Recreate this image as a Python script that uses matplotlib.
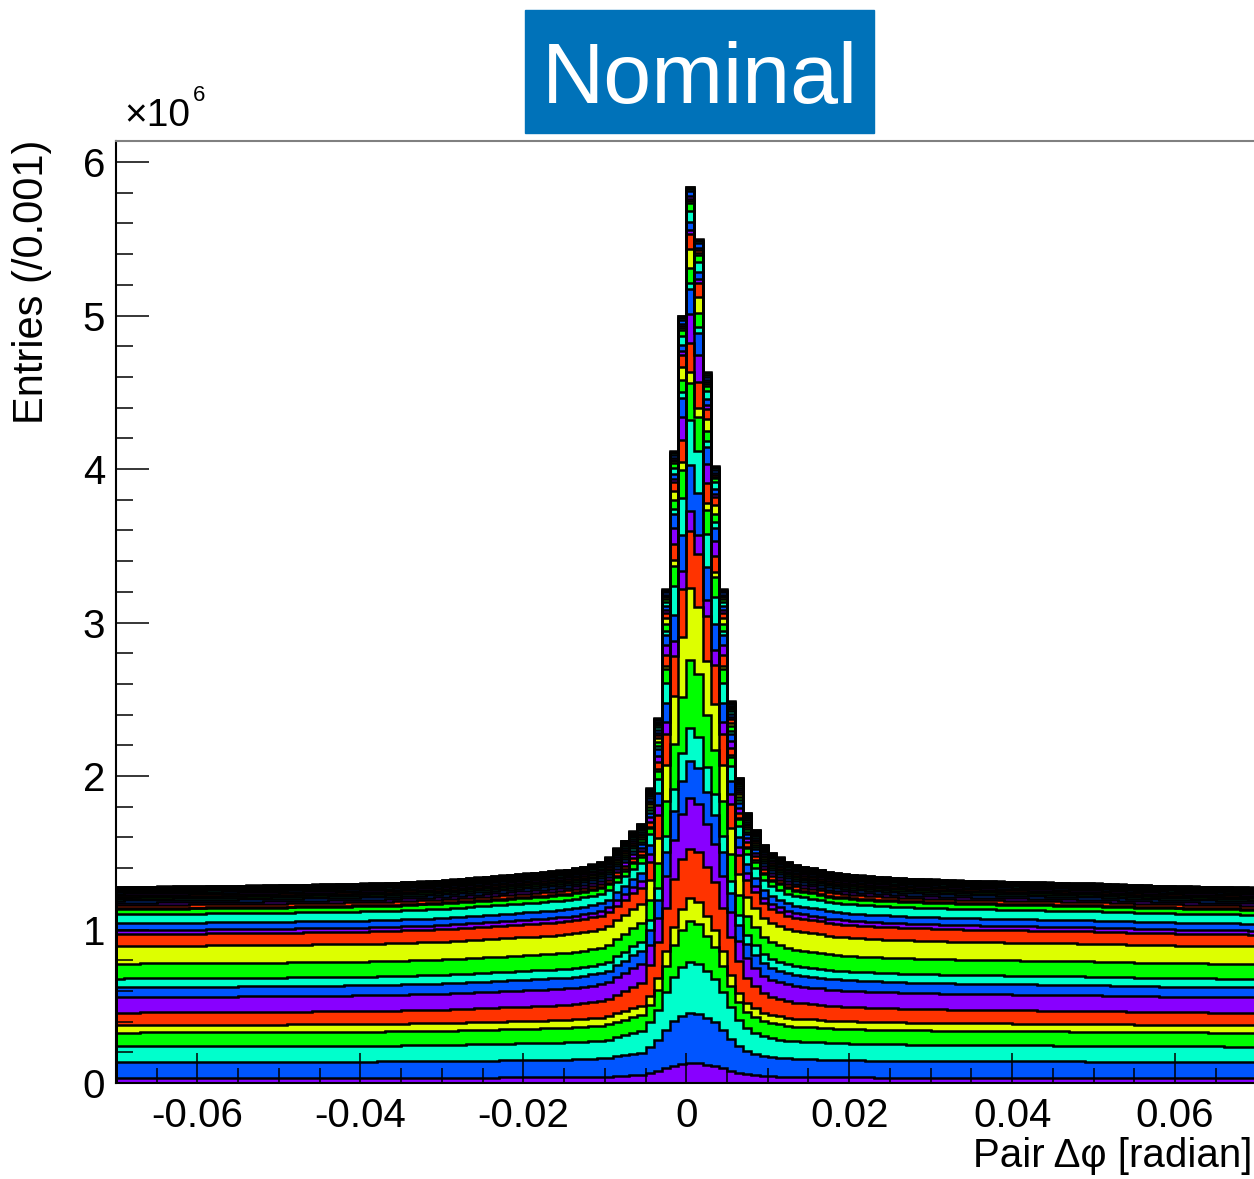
import numpy as np
import matplotlib.pyplot as plt
from matplotlib.patches import Rectangle
from matplotlib.ticker import MultipleLocator

plt.rcParams['font.family'] = ['Liberation Sans', 'DejaVu Sans']

# histogram binning: 0.001 rad bins from -0.07 to 0.07
edges = np.round(np.linspace(-0.070, 0.070, 141), 4)

# top of the stack per bin (x10^6 entries)
total = np.array([
    1.278, 1.279, 1.279, 1.280, 1.280, 1.281, 1.281, 1.282, 1.282, 1.283,
    1.283, 1.284, 1.284, 1.285, 1.285, 1.286, 1.287, 1.287, 1.288, 1.289,
    1.290, 1.291, 1.292, 1.293, 1.294, 1.295, 1.296, 1.297, 1.298, 1.299,
    1.300, 1.301, 1.302, 1.304, 1.306, 1.310, 1.312, 1.314, 1.316, 1.319,
    1.322, 1.326, 1.330, 1.335, 1.339, 1.343, 1.347, 1.352, 1.357, 1.362,
    1.366, 1.370, 1.375, 1.380, 1.385, 1.390, 1.400, 1.410, 1.425, 1.440,
    1.470, 1.530, 1.580, 1.640, 1.690, 1.920, 2.380, 3.220, 4.120, 5.000,
    5.840, 5.500, 4.630, 4.020, 3.220, 2.490, 1.990, 1.760, 1.650, 1.550,
    1.500, 1.470, 1.440, 1.420, 1.410, 1.400, 1.390, 1.375, 1.368, 1.362,
    1.356, 1.352, 1.348, 1.344, 1.341, 1.338, 1.335, 1.332, 1.330, 1.328,
    1.326, 1.324, 1.322, 1.320, 1.318, 1.317, 1.316, 1.315, 1.313, 1.312,
    1.311, 1.310, 1.309, 1.308, 1.307, 1.306, 1.305, 1.303, 1.302, 1.301,
    1.300, 1.298, 1.296, 1.294, 1.292, 1.290, 1.288, 1.286, 1.285, 1.284,
    1.283, 1.282, 1.281, 1.280, 1.279, 1.278, 1.277, 1.276, 1.275, 1.274,
])

# cumulative layer tops: at the left edge, in the shoulder bin (-0.005)
# and in the peak bin (0)
tail_tops = np.array([
    0.033, 0.137, 0.238, 0.329, 0.378, 0.459, 0.560, 0.625, 0.681, 0.778,
    0.893, 0.971, 0.997, 1.042, 1.101, 1.134, 1.140, 1.160, 1.175, 1.190,
    1.200, 1.210, 1.215, 1.225, 1.235, 1.243, 1.250, 1.256, 1.260, 1.265,
    1.270, 1.274, 1.276, 1.278, 1.279,
])
shoulder_tops = np.array([
    0.065, 0.235, 0.400, 0.510, 0.570, 0.770, 0.900, 1.000, 1.060, 1.190,
    1.320, 1.440, 1.490, 1.550, 1.620, 1.660, 1.670, 1.700, 1.730, 1.760,
    1.780, 1.800, 1.815, 1.830, 1.840, 1.855, 1.870, 1.880, 1.885, 1.890,
    1.895, 1.905, 1.910, 1.915, 1.920,
])
peak_tops = np.array([
    0.130, 0.456, 0.790, 1.060, 1.210, 1.530, 1.860, 2.100, 2.320, 2.760,
    3.230, 3.600, 3.730, 4.030, 4.330, 4.570, 4.640, 4.830, 5.020, 5.180,
    5.220, 5.320, 5.440, 5.540, 5.570, 5.620, 5.690, 5.740, 5.755, 5.770,
    5.790, 5.820, 5.835, 5.845, 5.850,
])

colors = ['#8800ff', '#0055ff', '#00ffcc', '#00ff00', '#ddff00', '#ff3300']

# split every bin between the layers, going from the tail mix to the
# shoulder mix and then to the peak mix as the bin content grows
tail_frac = tail_tops[:, None] / tail_tops[-1]
shoulder_frac = shoulder_tops[:, None] / shoulder_tops[-1]
peak_frac = peak_tops[:, None] / peak_tops[-1]
t_lo, t_mid, t_hi = total.min(), shoulder_tops[-1], total.max()
w1 = np.clip((total - t_lo) / (t_mid - t_lo), 0, 1)
w2 = np.clip((total - t_mid) / (t_hi - t_mid), 0, 1)
frac = np.where(total <= t_mid,
                (1 - w1) * tail_frac + w1 * shoulder_frac,
                (1 - w2) * shoulder_frac + w2 * peak_frac)
cum = total * frac

fig = plt.figure(figsize=(12.54, 11.79), dpi=100)
ax = fig.add_axes([0.0925, 0.0814, 0.9095, 0.799])

lower = np.zeros_like(total)
for k, top in enumerate(cum):
    ax.stairs(top, edges, baseline=lower, fill=True, color=colors[k % 6], lw=0, zorder=1)
    lower = top
for top in cum:
    ax.stairs(top, edges, color='black', lw=1.8, zorder=1.5)

ax.set_xlim(-0.070, 0.070)
ax.set_ylim(0, 6.137)
ax.set_axisbelow(False)

ax.xaxis.set_minor_locator(MultipleLocator(0.005))
ax.yaxis.set_major_locator(MultipleLocator(1))
ax.yaxis.set_minor_locator(MultipleLocator(0.2))
ax.set_xticks([-0.06, -0.04, -0.02, 0, 0.02, 0.04, 0.06])
ax.set_xticklabels(['-0.06', '-0.04', '-0.02', '0', '0.02', '0.04', '0.06'])
ax.tick_params(which='both', direction='in', labelsize=29, colors='black')
ax.tick_params(axis='y', which='major', length=24, width=1.1, pad=8)
ax.tick_params(axis='y', which='minor', length=12, width=1.1)
ax.tick_params(axis='x', which='major', length=21.5, width=1.1, pad=10)
ax.tick_params(axis='x', which='minor', length=11, width=1.1)

ax.spines['right'].set_visible(False)
ax.spines['left'].set_linewidth(1.5)
ax.spines['bottom'].set_linewidth(1.5)
ax.spines['top'].set_linewidth(1.5)
ax.spines['top'].set_color('#808080')

fig.text(32 / 1254, 1 - 140 / 1179, 'Entries (/0.001)', rotation=90,
         ha='center', va='top', fontsize=30)
fig.text(0.999, 1 - 1167 / 1179, 'Pair Δφ [radian]', ha='right',
         va='baseline', fontsize=29)
fig.text(124 / 1254, 1 - 126 / 1179, '×10', ha='left', va='baseline', fontsize=28)
fig.text(193 / 1254, 1 - 101 / 1179, '6', ha='left', va='baseline', fontsize=16)

fig.patches.append(Rectangle((525 / 1254, 1 - 133 / 1179), 349 / 1254, 123 / 1179,
                             transform=fig.transFigure, color='#0072b9', zorder=0))
fig.text(700 / 1254, 1 - 103 / 1179, 'Nominal', ha='center', va='baseline',
         fontsize=62, color='white')

fig.savefig('out.png', dpi=100)
